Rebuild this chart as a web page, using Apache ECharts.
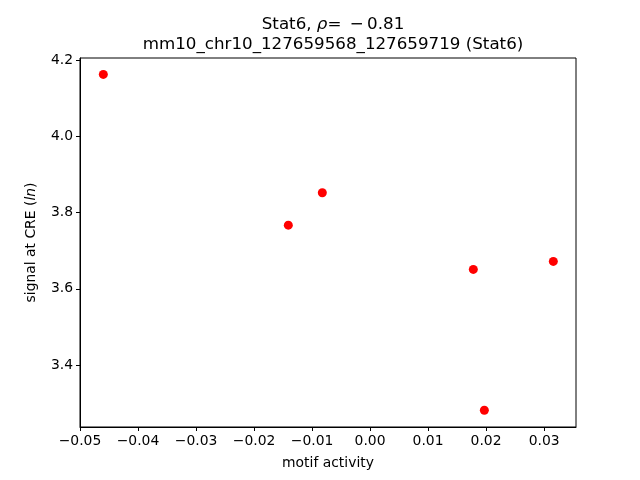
<!DOCTYPE html>
<html><head><meta charset="utf-8">
<script src="https://cdn.jsdelivr.net/npm/echarts@6/dist/echarts.min.js"></script>
<style>html,body{margin:0;padding:0;background:#fff}#c{width:640px;height:480px}</style>
</head><body><div id="c"></div>
<script>
var motifActivity = [-0.04598, -0.01409, -0.00823, 0.01780, 0.01970, 0.03159];
var signalAtCRE = [4.162, 3.767, 3.852, 3.651, 3.282, 3.672];
var xTicks = [-0.05, -0.04, -0.03, -0.02, -0.01, 0.00, 0.01, 0.02, 0.03];
var yTicks = [3.4, 3.6, 3.8, 4.0, 4.2];

var points = motifActivity.map(function (x, i) { return [x, signalAtCRE[i]]; });
function fmt(v, d) { return v.toFixed(d).replace('-', '\u2212'); }
var font = 'DejaVu Sans';
var chart = echarts.init(document.getElementById('c'), null, {renderer: 'canvas'});
chart.setOption({
  animation: false,
  backgroundColor: '#fff',
  title: {
    text: '{n|Stat6, }{i|ρ}{n|=\u2002\u2212\u20090.81}\n{n|mm10_chr10_127659568_127659719 (Stat6)}',
    left: 328, top: 10, textAlign: 'center',
    textStyle: {
      fontWeight: 'normal',
      rich: {
        n: {fontFamily: font, fontSize: 16.7, color: '#000', lineHeight: 19.5, fontWeight: 'normal'},
        i: {fontFamily: font, fontSize: 16.7, color: '#000', fontStyle: 'italic', lineHeight: 19.5, fontWeight: 'normal'}
      }
    }
  },
  grid: {left: 80, right: 64, top: 58, bottom: 53, show: true, borderColor: '#000', borderWidth: 1, backgroundColor: 'transparent'},
  xAxis: {
    type: 'value', min: -0.05, max: 0.0355,
    name: 'motif activity', nameLocation: 'middle', nameGap: 29,
    nameTextStyle: {fontFamily: font, fontSize: 13.9, color: '#000'},
    axisLine: {show: true, onZero: false, lineStyle: {color: '#000', width: 1}},
    axisTick: {show: true, inside: false, length: 4, lineStyle: {color: '#000'}, customValues: xTicks},
    axisLabel: {show: true, margin: 7, fontFamily: font, fontSize: 13.9, color: '#000', customValues: xTicks,
      formatter: function (v) { return fmt(v, 2); }},
    splitLine: {show: false}
  },
  yAxis: {
    type: 'value', min: 3.238, max: 4.205,
    name: '{n|signal at CRE (}{i|ln}{n|)}', nameLocation: 'middle', nameGap: 42, nameRotate: 90,
    nameTextStyle: {rich: {
      n: {fontFamily: font, fontSize: 13.9, color: '#000'},
      i: {fontFamily: font, fontSize: 13.9, color: '#000', fontStyle: 'italic'}
    }},
    axisLine: {show: true, onZero: false, lineStyle: {color: '#000', width: 1}},
    axisTick: {show: true, inside: false, length: 4, lineStyle: {color: '#000'}, customValues: yTicks},
    axisLabel: {show: true, margin: 7, fontFamily: font, fontSize: 13.9, color: '#000', customValues: yTicks,
      formatter: function (v) { return fmt(v, 1); }},
    splitLine: {show: false}
  },
  series: [{
    type: 'scatter', data: points, symbol: 'circle', symbolSize: 9,
    itemStyle: {color: '#ff0000', opacity: 1}
  }]
});
</script></body></html>
